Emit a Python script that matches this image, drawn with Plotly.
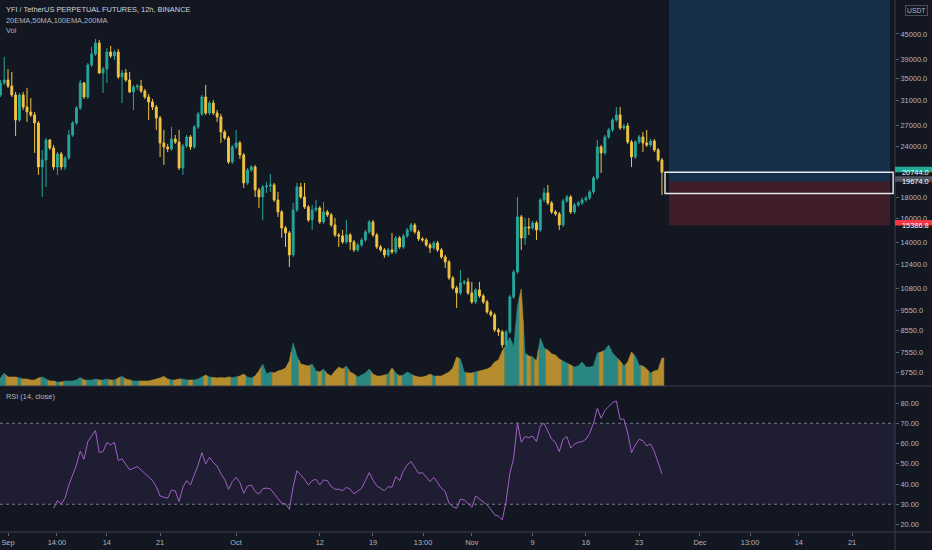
import math
import pandas as pd
import plotly.graph_objects as go

# ---------------- data ----------------
bar_start = "2020-08-31 00:00"
n_bars = 175
dates = pd.date_range(bar_start, periods=n_bars, freq="12h")

open_ = [31978, 34200, 34780, 33631, 31978, 27799, 31978, 29899, 29073, 28589,
         27336, 21367, 22221, 24854, 23765, 21367, 22981, 21367, 22472, 25560,
         27336, 29732, 34200, 31622, 37828, 40232, 42787, 36170, 36990, 40684,
         39783, 40684, 35369, 36170, 34780, 32519, 33443, 33631, 32702, 31622,
         30748, 29899, 28113, 24440, 23899, 23633, 24994, 24577, 21247, 24033,
         25276, 23899, 26731, 28750, 31622, 28911, 30576, 28911, 28271, 25993,
         25134, 21974, 23899, 24440, 22853, 19536, 21010, 21367, 18785, 18063,
         19103, 19210, 19318, 17761, 16607, 15184, 14764, 13054, 16794, 19103,
         18063, 17078, 15880, 16794, 16983, 15703, 16607, 16331, 15441, 14600,
         14518, 14038, 14600, 14038, 13424, 13805, 14196, 14847, 15703, 14600,
         13651, 13424, 13054, 13424, 13274, 14356, 13651, 14518, 15014, 15441,
         14847, 14276, 14196, 13805, 13575, 13960, 13424, 12908, 12551, 11476,
         10851, 10551, 11159, 11222, 10551, 10033, 10730, 10376, 10033, 9487,
         9329, 8577, 8481, 7886, 8481, 10318, 11868, 16149, 14356, 15269,
         15184, 15615, 15014, 17761, 18472, 17466, 16607, 16423, 15441, 17662,
         18063, 16607, 17271, 17466, 17761, 17962, 18575, 20090, 23899, 23109,
         25276, 26286, 27799, 28589, 26582, 26882, 24577, 22598, 24577, 25276,
         24440, 24168, 24715, 23501, 22221]

high_ = [34780, 39561, 36990, 36373, 32519, 32338, 32519, 33256, 31445, 29073,
         27644, 23501, 25134, 24994, 24168, 23239, 23239, 22725, 26286, 27644,
         30067, 34780, 34392, 38254, 41839, 43757, 43512, 37407, 41606, 42074,
         41142, 41373, 36783, 36990, 36373, 33820, 34010, 34780, 33070, 32158,
         31269, 30236, 28430, 26286, 24304, 26731, 25560, 26286, 24304, 25560,
         25560, 27033, 29073, 31978, 33820, 30921, 31094, 29400, 28750, 26286,
         25417, 24168, 26286, 24715, 23109, 21247, 21608, 21608, 18996, 19318,
         19645, 20546, 19536, 18575, 16794, 15355, 14930, 17466, 19536, 19536,
         19536, 17271, 17271, 17761, 17174, 17564, 16794, 16514, 16059, 14764,
         15014, 15880, 14764, 14196, 13960, 14356, 15014, 15880, 15880, 14764,
         13805, 13575, 13575, 14764, 14518, 14518, 14682, 15184, 15615, 15615,
         15014, 14437, 14356, 13960, 14117, 14117, 13575, 13054, 12693, 11605,
         10973, 12001, 11348, 11476, 11222, 10851, 11222, 10493, 10146, 9594,
         9434, 8673, 8577, 8577, 10434, 12001, 18063, 16331, 16059, 16059,
         15791, 15791, 17962, 18996, 19318, 17662, 16794, 16607, 17861, 18266,
         18266, 17466, 17662, 17962, 18164, 18785, 20317, 24854, 24168, 25560,
         26582, 28113, 29899, 29899, 27185, 27336, 24854, 24854, 25560, 25993,
         26286, 24994, 24994, 23765, 22472]

low_ = [31622, 33820, 33256, 31622, 25417, 27490, 29400, 27490, 28271, 23109,
        20431, 18063, 19103, 23501, 21010, 20431, 21010, 21010, 22221, 25276,
        27033, 29400, 31269, 31269, 37407, 39783, 35969, 32338, 34200, 39340,
        38902, 34975, 30576, 34392, 32338, 29400, 32885, 32338, 31269, 27799,
        29400, 26286, 22598, 21608, 23239, 23369, 24304, 21010, 20431, 23765,
        23501, 23633, 26434, 28430, 28589, 28589, 28589, 27490, 24440, 24854,
        21729, 21729, 23633, 22346, 18996, 19318, 20776, 18063, 16983, 15880,
        18472, 18575, 17564, 16149, 14356, 13651, 12205, 12908, 16607, 17861,
        16888, 15703, 15014, 16607, 15528, 15528, 16149, 15269, 14437, 13651,
        13883, 13883, 13424, 13274, 13274, 13651, 14038, 14682, 14437, 13499,
        13274, 12836, 12908, 13127, 13127, 13499, 13499, 14356, 14847, 14682,
        14117, 14038, 13651, 13200, 13424, 13274, 12764, 12137, 11348, 10730,
        9703, 10434, 11035, 10434, 9921, 9921, 10260, 9921, 9381, 9225,
        8481, 8293, 7754, 7754, 8387, 10203, 11736, 13424, 13805, 14600,
        15014, 14196, 14847, 17564, 17271, 16423, 16240, 15014, 15269, 17466,
        16423, 16423, 17078, 17271, 17564, 17761, 18369, 19866, 20660, 22853,
        24994, 25993, 27490, 26286, 26286, 24304, 21367, 22346, 24304, 23239,
        23899, 23899, 23239, 21974, 18266]

close_ = [34200, 34780, 33631, 31978, 27799, 31978, 29899, 29073, 28589, 27336,
          21367, 22221, 24854, 23765, 21367, 22981, 21367, 22472, 25560, 27336,
          29732, 34200, 31622, 37828, 40232, 42787, 36170, 36990, 40684, 39783,
          40684, 35369, 36170, 34780, 32519, 33443, 33631, 32702, 31622, 30748,
          29899, 28113, 24440, 23899, 23633, 24994, 24577, 21247, 24033, 25276,
          23899, 26731, 28750, 31622, 28911, 30576, 28911, 28271, 25993, 25134,
          21974, 23899, 24440, 22853, 19536, 21010, 21367, 18785, 18063, 19103,
          19210, 19318, 17761, 16607, 15184, 14764, 13054, 16794, 19103, 18063,
          17078, 15880, 16794, 16983, 15703, 16607, 16331, 15441, 14600, 14518,
          14038, 14600, 14038, 13424, 13805, 14196, 14847, 15703, 14600, 13651,
          13424, 13054, 13424, 13274, 14356, 13651, 14518, 15014, 15441, 14847,
          14276, 14196, 13805, 13575, 13960, 13424, 12908, 12551, 11476, 10851,
          10551, 11159, 11222, 10551, 10033, 10730, 10376, 10033, 9487, 9329,
          8577, 8481, 7886, 8481, 10318, 11868, 16149, 14356, 15269, 15184,
          15615, 15014, 17761, 18472, 17466, 16607, 16423, 15441, 17662, 18063,
          16607, 17271, 17466, 17761, 17962, 18575, 20090, 23899, 23109, 25276,
          26286, 27799, 28589, 26582, 26882, 24577, 22598, 24577, 25276, 24440,
          24168, 24715, 23501, 22221, 20744]

volume = [800, 1300, 900, 900, 900, 800, 700, 700, 600, 600,
          800, 900, 700, 500, 500, 400, 400, 500, 500, 500,
          600, 850, 600, 600, 600, 700, 600, 600, 700, 600,
          600, 800, 970, 700, 600, 500, 500, 500, 500, 500,
          600, 700, 800, 970, 700, 600, 600, 700, 700, 600,
          600, 600, 700, 900, 1100, 900, 850, 800, 850, 800,
          900, 850, 900, 1000, 1200, 900, 800, 1000, 1500, 2200,
          1200, 1400, 1300, 1500, 1600, 1800, 2500, 4300, 3000, 2200,
          2100, 2000, 2200, 1500, 1400, 1700, 1200, 1000, 1500, 1900,
          1700, 2000, 1400, 1200, 900, 1100, 1300, 1700, 1200, 1000,
          1000, 1100, 1200, 1800, 1300, 1000, 1100, 1400, 1200, 1000,
          900, 900, 1000, 1200, 1000, 1000, 1000, 1200, 1400, 1800,
          2900, 2700, 1400, 1300, 1300, 1400, 1500, 1600, 1700, 1900,
          2400, 2600, 3500, 4100, 4900, 3900, 8000, 9700, 3300, 3000,
          2900, 2500, 4800, 3800, 3600, 3200, 3100, 2700, 2500, 2300,
          2100, 1900, 2000, 2400, 1900, 1900, 2000, 3300, 3400, 3600,
          4100, 3300, 2900, 2500, 2000, 2400, 3400, 3000, 2100, 2000,
          1700, 1300, 1500, 1600, 2800]

rsi_first_bar = 14
rsi = [28.0, 31.8, 30.2, 33.0, 39.5, 44.5, 49.4, 56.3, 52.2, 61.0,
       63.4, 66.4, 55.5, 56.0, 60.5, 59.3, 60.6, 51.6, 52.4, 49.9,
       47.0, 47.8, 48.6, 47.0, 45.3, 43.3, 41.7, 38.7, 34.1, 33.5,
       33.0, 37.1, 36.6, 31.3, 38.4, 41.7, 39.5, 44.5, 49.4, 55.5,
       49.9, 53.2, 50.6, 48.9, 45.0, 42.3, 37.4, 41.2, 43.3, 40.7,
       35.4, 39.0, 39.5, 36.3, 35.1, 37.6, 38.0, 37.6, 35.1, 32.5,
       30.5, 30.2, 27.5, 38.7, 46.6, 44.5, 42.3, 39.5, 41.7, 42.3,
       39.5, 42.0, 41.7, 38.7, 37.4, 37.4, 36.7, 38.4, 37.4, 35.1,
       36.3, 37.9, 41.7, 45.6, 42.0, 39.0, 37.9, 36.7, 38.7, 38.4,
       43.7, 41.7, 46.5, 49.4, 51.1, 48.3, 45.3, 45.6, 43.3, 41.2,
       43.3, 40.7, 37.9, 36.3, 30.5, 28.8, 28.0, 32.5, 32.1, 30.5,
       28.5, 34.1, 32.5, 31.3, 29.7, 27.5, 24.7, 24.2, 22.3, 31.3,
       45.3, 52.7, 70.3, 60.6, 63.4, 62.9, 63.7, 60.9, 68.7, 70.0,
       65.9, 62.1, 60.5, 56.0, 62.1, 63.4, 57.7, 59.8, 60.6, 60.9,
       62.1, 65.1, 70.0, 77.4, 72.5, 76.3, 78.2, 80.2, 81.0, 72.0,
       72.0, 65.1, 55.5, 59.3, 62.1, 61.4, 58.8, 59.8, 56.0, 50.2,
       45.0]

price_ticks = [45000, 39000, 35000, 31000, 27000, 24000, 18000, 16000,
               14000, 12400, 10800, 9550, 8550, 7550, 6750]
rsi_ticks = [80, 70, 60, 50, 40, 30, 20]
rsi_upper, rsi_lower = 70, 30

x_tick_dates = ["2020-09-01", "2020-09-07 10:30", "2020-09-14", "2020-09-21",
                "2020-10-01", "2020-10-12", "2020-10-19", "2020-10-25 14:00",
                "2020-11-01", "2020-11-09", "2020-11-16", "2020-11-23",
                "2020-12-01", "2020-12-07 14:00", "2020-12-14", "2020-12-21"]
x_tick_text = ["Sep", "14:00", "14", "21", "Oct", "12", "19", "13:00",
               "Nov", "9", "16", "23", "Dec", "13:00", "14", "21"]
x_view = ["2020-08-30 22:45", "2020-12-26 15:36"]

# position tool + rectangle drawing
last_price = 20744.0
entry_price = 19674.0
stop_price = 15386.8
target_price = 60000.0
pos_start, pos_end = "2020-11-26 22:20", "2020-12-26 00:00"
rect_top, rect_bottom = 20744.0, 18420.0
rect_start, rect_end = "2020-11-26 09:40", "2020-12-26 09:40"

# ---------------- styling ----------------
BG = "#131722"
TEAL = "#26a69a"
GOLD = "#f2c440"
VOL_TEAL = "#2a8782"
VOL_GOLD = "#b58d2f"
SEP = "#3a3e4a"
TXT = "#b2b5be"
FONT = "Liberation Sans"
FS = 7.4

# ---------------- figure ----------------
fig = go.Figure()

# volume as coloured area segments
half = pd.Timedelta(hours=6)
segs = {True: ([], []), False: ([], [])}
for i in range(n_bars):
    v = volume[i]
    lv = (volume[i - 1] + v) / 2 if i > 0 else v
    rv = (volume[i + 1] + v) / 2 if i < n_bars - 1 else v
    t = dates[i]
    xs, ys = segs[close_[i] >= open_[i]]
    xs += [t - half, t - half, t, t + half, t + half, None]
    ys += [0, lv, v, rv, 0, None]

for up, col in ((True, VOL_TEAL), (False, VOL_GOLD)):
    xs, ys = segs[up]
    fig.add_trace(go.Scatter(x=xs, y=ys, xaxis="x", yaxis="y", mode="lines",
                             fill="toself", fillcolor=col,
                             line=dict(color=col, width=0.6),
                             hoverinfo="skip", showlegend=False))

fig.add_trace(go.Candlestick(
    x=dates, open=open_, high=high_, low=low_, close=close_,
    xaxis="x", yaxis="y3", whiskerwidth=0,
    increasing=dict(line=dict(color=TEAL, width=1), fillcolor=TEAL),
    decreasing=dict(line=dict(color=GOLD, width=1), fillcolor=GOLD),
    showlegend=False))

fig.add_trace(go.Scatter(x=dates[rsi_first_bar:], y=rsi, xaxis="x2", yaxis="y2",
                         mode="lines", line=dict(color="#a25fc6", width=1),
                         showlegend=False, hoverinfo="skip"))

H = 532.0  # plot-area height in px
W = 895.0  # plot-area width in px
row1_bottom = 1 - 386 / H
row2_top = (H - 387) / H

shapes = [
    # position tool
    dict(type="rect", xref="x", yref="y3", x0=pos_start, x1=pos_end,
         y0=entry_price, y1=target_price, fillcolor="rgba(33,150,243,0.2)",
         line=dict(width=0), layer="below"),
    dict(type="rect", xref="x", yref="y3", x0=pos_start, x1=pos_end,
         y0=stop_price, y1=entry_price, fillcolor="rgba(242,54,69,0.2)",
         line=dict(width=0), layer="below"),
    dict(type="rect", xref="x", yref="y3", x0=rect_start, x1=rect_end,
         y0=rect_bottom, y1=rect_top, fillcolor="rgba(0,0,0,0)",
         line=dict(color="#e6e8ee", width=1.4)),
    # RSI band
    dict(type="rect", xref="paper", yref="y2", x0=0, x1=1, y0=rsi_lower, y1=rsi_upper,
         fillcolor="rgba(126,87,194,0.1)", line=dict(width=0), layer="below"),
    dict(type="line", xref="paper", yref="y2", x0=0, x1=1, y0=rsi_upper, y1=rsi_upper,
         line=dict(color="#787b86", width=1, dash="3px,3px")),
    dict(type="line", xref="paper", yref="y2", x0=0, x1=1, y0=rsi_lower, y1=rsi_lower,
         line=dict(color="#787b86", width=1, dash="3px,3px")),
    # pane separators extending across the price scale
    dict(type="line", xref="paper", yref="paper", x0=0, x1=932 / W,
         y0=row1_bottom, y1=row1_bottom, line=dict(color=SEP, width=1)),
    dict(type="line", xref="paper", yref="paper", x0=0, x1=932 / W,
         y0=0, y1=0, line=dict(color=SEP, width=1)),
    dict(type="line", xref="paper", yref="paper", x0=1, x1=1,
         y0=-18 / H, y1=1, line=dict(color=SEP, width=1)),
]

annotations = []
price_labels = [(last_price, "#22ab94"), (entry_price, "#50535e"), (stop_price, "#f23645")]
for val, col in price_labels:
    shapes.append(dict(type="rect", xref="paper", yref="y3", x0=1.0, x1=932 / W,
                       ysizemode="pixel", yanchor=val, y0=-5.5, y1=5.5,
                       fillcolor=col, line=dict(width=0), layer="above"))
    annotations.append(dict(xref="paper", yref="y3", x=1.0, xanchor="left", xshift=5,
                            y=math.log10(val), yanchor="middle", showarrow=False,
                            text=f"{val:.1f}", font=dict(family=FONT, size=FS, color="#ffffff")))

def top_text(text, ypx, color, xpx=4):
    annotations.append(dict(xref="paper", yref="paper", x=xpx / W, y=1 - ypx / H,
                            xanchor="left", yanchor="middle", showarrow=False, text=text,
                            font=dict(family=FONT, size=FS, color=color)))

top_text("YFI / TetherUS PERPETUAL FUTURES, 12h, BINANCE", 9.3, "#d1d4dc")
top_text("20EMA,50MA,100EMA,200MA", 20.5, TXT)
top_text("Vol", 30.7, TXT)
top_text("RSI (14, close)", 396.5, TXT)
annotations.append(dict(xref="paper", yref="paper", x=916 / W, y=1 - 10 / H,
                        xanchor="center", yanchor="middle", showarrow=False, text="USDT",
                        font=dict(family=FONT, size=6.8, color=TXT),
                        bordercolor="#4a4e5a", borderwidth=1, borderpad=1))

axis_font = dict(family=FONT, size=FS, color=TXT)

fig.update_layout(
    width=932, height=550,
    margin=dict(l=0, r=37, t=0, b=18, pad=0),
    paper_bgcolor=BG, plot_bgcolor=BG, showlegend=False,
    xaxis=dict(type="date", range=x_view, domain=[0, 1], anchor="y",
               showticklabels=False, showgrid=False, zeroline=False, ticks="",
               showline=False, rangeslider=dict(visible=False)),
    yaxis=dict(domain=[row1_bottom, 1], range=[0, 38600], visible=False,
               showgrid=False, zeroline=False),
    yaxis3=dict(overlaying="y", anchor="x", side="right", type="log",
                range=[3.7968, 4.7359], tickvals=price_ticks,
                ticktext=[f"{v:.1f}" for v in price_ticks],
                showgrid=False, zeroline=False, showline=False,
                ticks="outside", ticklen=3, tickcolor="#5d606b", tickfont=axis_font),
    xaxis2=dict(type="date", matches="x", anchor="y2", domain=[0, 1],
                tickmode="array", tickvals=x_tick_dates, ticktext=x_tick_text,
                showgrid=False, zeroline=False, showline=False,
                ticks="outside", ticklen=3, tickcolor="#5d606b", tickfont=axis_font),
    yaxis2=dict(domain=[0, row2_top], anchor="x2", side="right", range=[16.3, 87.9],
                tickvals=rsi_ticks, ticktext=[f"{v:.2f}" for v in rsi_ticks],
                showgrid=False, zeroline=False, showline=False,
                ticks="outside", ticklen=3, tickcolor="#5d606b", tickfont=axis_font),
    shapes=shapes,
    annotations=annotations,
)

fig.write_html(
    "out.html",
    config={"displayModeBar": False},
    post_script="document.body.style.margin='0';document.body.style.background='#131722';",
)
